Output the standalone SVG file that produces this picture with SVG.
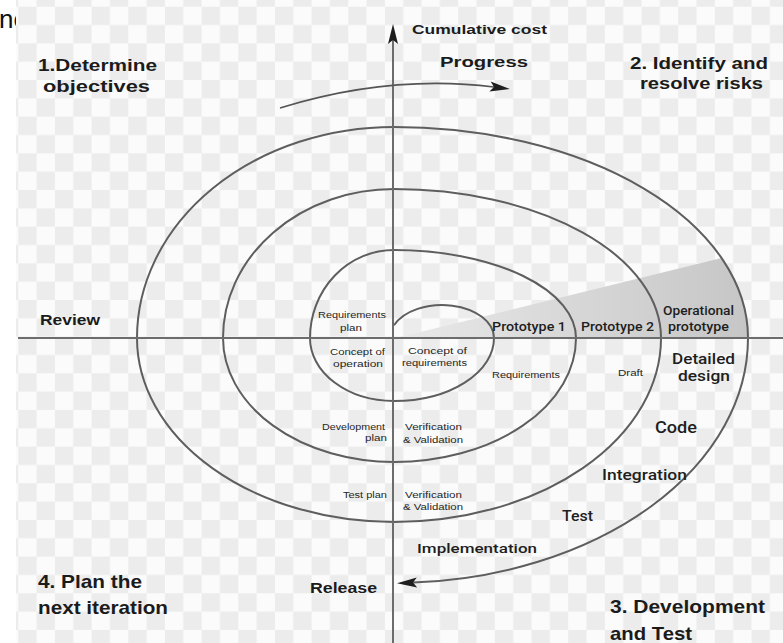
<svg xmlns="http://www.w3.org/2000/svg" width="783" height="643" viewBox="0 0 783 643">
  <style>
    .big { font-family: "Liberation Sans", Arial, sans-serif; font-weight: bold; fill: #1b1b1b; }
    .mid { font-family: Roboto, "Liberation Sans", sans-serif; font-weight: 500; fill: #1e1e1e; }
    .small { font-family: "Liberation Sans", Arial, sans-serif; font-size: 8.5px; fill: #262626; }
    .line { fill: none; stroke: #5e5e5e; stroke-width: 2; }
    .axis { fill: none; stroke: #6c6c6c; stroke-width: 2; }
  </style>
  <defs>
    <pattern id="checker" patternUnits="userSpaceOnUse" x="18.3" y="6.7" width="36.66" height="36.66">
      <rect width="36.66" height="36.66" fill="#fbfbfb"/>
      <rect width="18.33" height="18.33" fill="#ececec"/>
      <rect x="18.33" y="18.33" width="18.33" height="18.33" fill="#ececec"/>
    </pattern>
    <linearGradient id="wedgeFill" x1="396" y1="0" x2="748" y2="0" gradientUnits="userSpaceOnUse">
      <stop offset="0" stop-color="#e9e9e9"/>
      <stop offset="1" stop-color="#c6c6c6"/>
    </linearGradient>
    <marker id="stealth" markerUnits="userSpaceOnUse" markerWidth="20" markerHeight="10" refX="4" refY="5" orient="auto" overflow="visible">
      <path d="M0,0 L20,5 L0,10 L4,5 Z" fill="#1e1e1e"/>
    </marker>
  </defs>

  <!-- page background -->
  <rect width="783" height="643" fill="#ffffff"/>
  <text x="-1" y="28" font-family="Liberation Sans, Arial, sans-serif" font-size="26" fill="#111">ne</text>
  <rect x="16" y="0" width="767" height="643" fill="url(#checker)"/>

  <!-- shaded prototype wedge -->
  <path id="wedge" d="M396,338 L721.6,258 A354,211 0 0 1 748,338 Z" fill="url(#wedgeFill)"/>

  <g id="connectors">
    <!-- spiral -->
    <path class="line" d="M394,325.3 A52,33 0 0 1 494,338 A100,63 0 0 1 394,401 A84,63 0 0 1 310,338 A84,88 0 0 1 394,250 A182,88 0 0 1 576,338 A182,124 0 0 1 394,462 A171,124 0 0 1 223,338 A171,149 0 0 1 394,189 A267,149 0 0 1 661,338 A267,184 0 0 1 394,522 A257,184 0 0 1 137,338 A257,211 0 0 1 394,127 A354,211 0 0 1 748,338 A354,245 0 0 1 413,582.6" marker-end="url(#stealth)"/>
    <!-- axes -->
    <line class="axis" x1="18" y1="338" x2="783" y2="338"/>
    <line class="axis" x1="393" y1="643" x2="393" y2="40" marker-end="url(#stealth)"/>
    <!-- progress arrow -->
    <path d="M280,108 Q390,74 494,87" fill="none" stroke="#555" stroke-width="1.6" marker-end="url(#stealth)"/>
  </g>

  <g id="q1-objectives">
    <text class="big" x="38" y="71" font-size="16.5" textLength="119" lengthAdjust="spacingAndGlyphs">1.Determine</text>
    <text class="big" x="43" y="92" font-size="16.5" textLength="107" lengthAdjust="spacingAndGlyphs">objectives</text>
  </g>
  <g id="cost-label">
    <text class="big" x="412" y="34" font-size="13.5" textLength="135" lengthAdjust="spacingAndGlyphs">Cumulative cost</text>
  </g>
  <g id="progress-label">
    <text class="big" x="440" y="67" font-size="15" textLength="88" lengthAdjust="spacingAndGlyphs">Progress</text>
  </g>
  <g id="q2-risks">
    <text class="big" x="630" y="69" font-size="17" textLength="138" lengthAdjust="spacingAndGlyphs">2. Identify and</text>
    <text class="big" x="640" y="89" font-size="17" textLength="123" lengthAdjust="spacingAndGlyphs">resolve risks</text>
  </g>
  <g id="review">
    <text class="big" x="40" y="325" font-size="15" textLength="60" lengthAdjust="spacingAndGlyphs">Review</text>
  </g>

  <g id="requirements-plan">
    <text class="small" x="318" y="318" textLength="68" lengthAdjust="spacingAndGlyphs">Requirements</text>
    <text class="small" x="340" y="331" textLength="22" lengthAdjust="spacingAndGlyphs">plan</text>
  </g>
  <g id="concept-operation">
    <text class="small" x="330" y="355" textLength="55" lengthAdjust="spacingAndGlyphs">Concept of</text>
    <text class="small" x="333" y="367" textLength="50" lengthAdjust="spacingAndGlyphs">operation</text>
  </g>
  <g id="concept-requirements">
    <text class="small" x="408" y="354" textLength="59" lengthAdjust="spacingAndGlyphs">Concept of</text>
    <text class="small" x="402" y="366" textLength="65" lengthAdjust="spacingAndGlyphs">requirements</text>
  </g>
  <g id="prototype-1">
    <text class="mid" x="492" y="331" font-size="12" textLength="74" lengthAdjust="spacingAndGlyphs">Prototype 1</text>
  </g>
  <g id="requirements">
    <text class="small" x="492" y="378" textLength="68" lengthAdjust="spacingAndGlyphs">Requirements</text>
  </g>
  <g id="prototype-2">
    <text class="mid" x="581" y="331" font-size="12" textLength="73" lengthAdjust="spacingAndGlyphs">Prototype 2</text>
  </g>
  <g id="operational-prototype">
    <text class="mid" x="663" y="315" font-size="12" textLength="71" lengthAdjust="spacingAndGlyphs">Operational</text>
    <text class="mid" x="668" y="331" font-size="12" textLength="61" lengthAdjust="spacingAndGlyphs">prototype</text>
  </g>
  <g id="draft">
    <text class="small" x="618" y="376" textLength="25" lengthAdjust="spacingAndGlyphs">Draft</text>
  </g>
  <g id="detailed-design">
    <text class="mid" x="672" y="364" font-size="15" textLength="63" lengthAdjust="spacingAndGlyphs">Detailed</text>
    <text class="mid" x="678" y="381" font-size="15" textLength="52" lengthAdjust="spacingAndGlyphs">design</text>
  </g>
  <g id="code">
    <text class="mid" x="655" y="433" font-size="16" textLength="42" lengthAdjust="spacingAndGlyphs">Code</text>
  </g>
  <g id="integration">
    <text class="mid" x="602" y="480" font-size="14.5" textLength="85" lengthAdjust="spacingAndGlyphs">Integration</text>
  </g>
  <g id="test">
    <text class="mid" x="562" y="521" font-size="15" textLength="31" lengthAdjust="spacingAndGlyphs">Test</text>
  </g>
  <g id="implementation">
    <text class="mid" x="417" y="553" font-size="13.5" textLength="120" lengthAdjust="spacingAndGlyphs">Implementation</text>
  </g>
  <g id="release">
    <text class="big" x="310" y="593" font-size="14" textLength="67" lengthAdjust="spacingAndGlyphs">Release</text>
  </g>
  <g id="development-plan">
    <text class="small" x="322" y="430" textLength="63" lengthAdjust="spacingAndGlyphs">Development</text>
    <text class="small" x="365" y="441" textLength="22" lengthAdjust="spacingAndGlyphs">plan</text>
  </g>
  <g id="vv-1">
    <text class="small" x="405" y="430" textLength="57" lengthAdjust="spacingAndGlyphs">Verification</text>
    <text class="small" x="403" y="443" textLength="60" lengthAdjust="spacingAndGlyphs">&amp; Validation</text>
  </g>
  <g id="test-plan">
    <text class="small" x="343" y="498" textLength="44" lengthAdjust="spacingAndGlyphs">Test plan</text>
  </g>
  <g id="vv-2">
    <text class="small" x="405" y="498" textLength="57" lengthAdjust="spacingAndGlyphs">Verification</text>
    <text class="small" x="403" y="510" textLength="60" lengthAdjust="spacingAndGlyphs">&amp; Validation</text>
  </g>
  <g id="q4-plan">
    <text class="big" x="38" y="588" font-size="19" textLength="104" lengthAdjust="spacingAndGlyphs">4. Plan the</text>
    <text class="big" x="38" y="614" font-size="19" textLength="130" lengthAdjust="spacingAndGlyphs">next iteration</text>
  </g>
  <g id="q3-development">
    <text class="big" x="610" y="613" font-size="19" textLength="155" lengthAdjust="spacingAndGlyphs">3. Development</text>
    <text class="big" x="610" y="640" font-size="19" textLength="82" lengthAdjust="spacingAndGlyphs">and Test</text>
  </g>
</svg>
